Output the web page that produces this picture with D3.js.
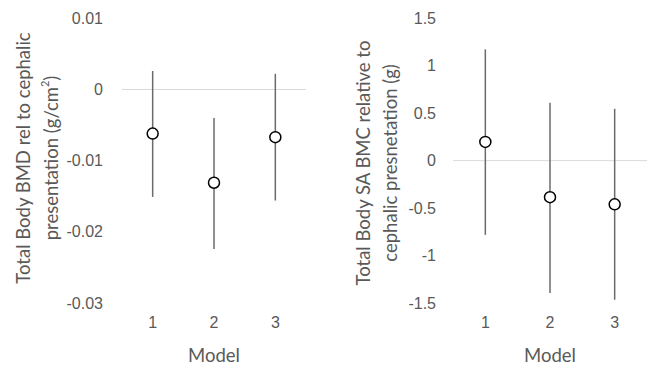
<!DOCTYPE html>
<html lang="en">
<head>
<meta charset="UTF-8">
<title>Total Body BMD / BMC by model</title>
<script src="https://d3js.org/d3.v7.min.js"></script>
<style>
    body { margin: 0; padding: 0; background: #fff; }
    svg { display: block; font-family: Lato, "Open Sans", sans-serif; }
    .tick text { fill: #595959; font-size: 16px; }
    .title { fill: #595959; font-size: 18.5px; }
</style>
</head>
<body>
<svg id="vis" width="647" height="365"></svg>
<script>
    const models = ["1", "2", "3"];

    // Total Body BMD rel to cephalic presentation (g/cm2)
    const bmdEstimate = [-0.0062, -0.0131, -0.0067];
    const bmdLower = [-0.0151, -0.0224, -0.0156];
    const bmdUpper = [0.0026, -0.0040, 0.0022];
    const bmdTicks = [0.01, 0, -0.01, -0.02, -0.03];

    // Total Body SA BMC relative to cephalic presnetation (g)
    const bmcEstimate = [0.197, -0.385, -0.46];
    const bmcLower = [-0.782, -1.395, -1.466];
    const bmcUpper = [1.173, 0.61, 0.547];
    const bmcTicks = [1.5, 1, 0.5, 0, -0.5, -1, -1.5];

    const svg = d3.select("#vis");
    const fmt = d => d === 0 ? "0" : String(+d.toFixed(3)).replace("\u2212", "-");

    function panel(cfg) {
        const x = d3.scaleBand().domain(models).range([cfg.left, cfg.right]);
        const y = d3.scaleLinear().domain(cfg.domain).range([303, 18.3]);
        const g = svg.append("g");

        // zero line
        g.append("line")
            .attr("x1", cfg.left).attr("x2", cfg.right)
            .attr("y1", y(0)).attr("y2", y(0))
            .attr("stroke", "#d9d9d9").attr("stroke-width", 1);

        const yAxis = g.append("g")
            .attr("transform", `translate(${cfg.labelRight},0)`)
            .call(d3.axisLeft(y).tickValues(cfg.ticks).tickSize(0).tickPadding(0).tickFormat(fmt));
        yAxis.select(".domain").remove();

        const xAxis = g.append("g")
            .attr("transform", "translate(0,317)")
            .call(d3.axisBottom(x).tickSize(0).tickPadding(0));
        xAxis.select(".domain").remove();

        const rows = models.map((m, i) => ({ m, est: cfg.est[i], lo: cfg.lo[i], hi: cfg.hi[i] }));

        g.selectAll(".err").data(rows).join("line")
            .attr("class", "err")
            .attr("x1", d => x(d.m) + x.bandwidth() / 2)
            .attr("x2", d => x(d.m) + x.bandwidth() / 2)
            .attr("y1", d => y(d.hi)).attr("y2", d => y(d.lo))
            .attr("stroke", "#6b6b6b").attr("stroke-width", 1.5);

        g.selectAll(".pt").data(rows).join("circle")
            .attr("class", "pt")
            .attr("cx", d => x(d.m) + x.bandwidth() / 2)
            .attr("cy", d => y(d.est))
            .attr("r", 5.5)
            .attr("fill", "#fff").attr("stroke", "#000").attr("stroke-width", 1.5);

        g.append("text").attr("class", "title")
            .attr("x", (cfg.left + cfg.right) / 2).attr("y", 357)
            .attr("text-anchor", "middle").attr("dominant-baseline", "middle")
            .text("Model");

        cfg.titleLines.forEach(t => {
            const txt = g.append("text").attr("class", "title")
                .attr("transform", `translate(${t.x},${t.y}) rotate(-90)`)
                .attr("text-anchor", "middle").attr("dominant-baseline", "middle");
            txt.append("tspan").text(t.text);
            if (t.sup) {
                txt.append("tspan").attr("font-size", "11px").attr("dy", -7).text(t.sup);
                txt.append("tspan").attr("dy", 7).text(t.after);
            }
        });
    }

    panel({
        left: 122, right: 306, labelRight: 103,
        domain: [-0.03, 0.01], ticks: bmdTicks,
        est: bmdEstimate, lo: bmdLower, hi: bmdUpper,
        titleLines: [
            { x: 25, y: 158, text: "Total Body BMD rel to cephalic" },
            { x: 52.5, y: 158, text: "presentation (g/cm", sup: "2", after: ")" }
        ]
    });

    panel({
        left: 453, right: 647, labelRight: 436,
        domain: [-1.5, 1.5], ticks: bmcTicks,
        est: bmcEstimate, lo: bmcLower, hi: bmcUpper,
        titleLines: [
            { x: 365, y: 163, text: "Total Body SA BMC relative to" },
            { x: 392, y: 163, text: "cephalic presnetation (g)" }
        ]
    });
</script>
</body>
</html>
